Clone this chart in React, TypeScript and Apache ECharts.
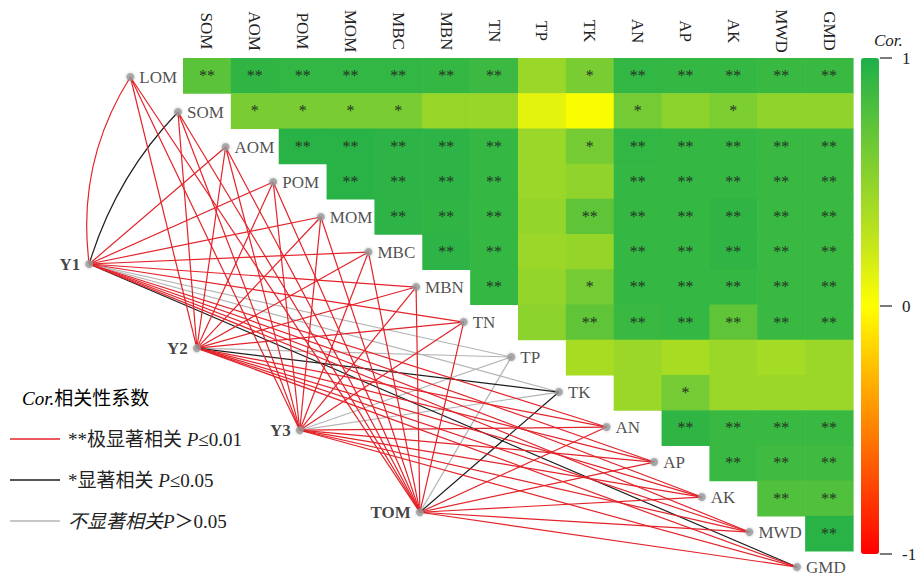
import React, { useEffect, useRef } from 'react';
import * as echarts from 'echarts';

// ---------- data ----------
const columns = ['SOM', 'AOM', 'POM', 'MOM', 'MBC', 'MBN', 'TN', 'TP', 'TK', 'AN', 'AP', 'AK', 'MWD', 'GMD'];
const nodeNames = ['LOM', ...columns];

// correlation values, row r starts at column r
const corrRows: number[][] = [
  [0.74, 0.92, 0.91, 0.91, 0.91, 0.9, 0.87, 0.45, 0.6, 0.91, 0.9, 0.9, 0.88, 0.88],
  [0.6, 0.6, 0.6, 0.6, 0.46, 0.46, 0.12, 0.02, 0.62, 0.52, 0.58, 0.5, 0.5],
  [0.95, 0.95, 0.93, 0.93, 0.9, 0.45, 0.62, 0.91, 0.9, 0.9, 0.88, 0.88],
  [0.95, 0.93, 0.93, 0.9, 0.45, 0.5, 0.9, 0.9, 0.9, 0.88, 0.88],
  [0.93, 0.92, 0.9, 0.48, 0.72, 0.9, 0.9, 0.92, 0.88, 0.88],
  [0.93, 0.9, 0.45, 0.47, 0.9, 0.9, 0.92, 0.88, 0.88],
  [0.9, 0.48, 0.62, 0.9, 0.9, 0.9, 0.88, 0.88],
  [0.52, 0.72, 0.88, 0.9, 0.72, 0.88, 0.88],
  [0.38, 0.45, 0.38, 0.45, 0.4, 0.45],
  [0.45, 0.62, 0.45, 0.45, 0.45],
  [0.92, 0.88, 0.88, 0.88],
  [0.88, 0.85, 0.85],
  [0.78, 0.78],
  [0.95],
];
// 2 = **, 1 = *, 0 = none
const sigRows: number[][] = [
  [2, 2, 2, 2, 2, 2, 2, 0, 1, 2, 2, 2, 2, 2],
  [1, 1, 1, 1, 0, 0, 0, 0, 1, 0, 1, 0, 0],
  [2, 2, 2, 2, 2, 0, 1, 2, 2, 2, 2, 2],
  [2, 2, 2, 2, 0, 0, 2, 2, 2, 2, 2],
  [2, 2, 2, 0, 2, 2, 2, 2, 2, 2],
  [2, 2, 0, 0, 2, 2, 2, 2, 2],
  [2, 0, 1, 2, 2, 2, 2, 2],
  [0, 2, 2, 2, 2, 2, 2],
  [0, 0, 0, 0, 0, 0],
  [0, 1, 0, 0, 0],
  [2, 2, 2, 2],
  [2, 2, 2],
  [2, 2],
  [2],
];

const envNames = ['Y1', 'Y2', 'Y3', 'TOM'];
// link significance from each env node to LOM..GMD: 2 = P<=0.01, 1 = P<=0.05, 0 = ns
const envSig: number[][] = [
  [2, 1, 2, 2, 2, 2, 2, 2, 0, 0, 2, 2, 2, 2, 1],
  [2, 2, 2, 2, 2, 2, 2, 2, 0, 1, 2, 2, 2, 2, 2],
  [2, 2, 2, 2, 2, 2, 2, 2, 0, 0, 2, 2, 2, 2, 2],
  [2, 2, 2, 2, 2, 2, 2, 2, 0, 1, 2, 2, 2, 2, 2],
];
const sigLabels = ['不显著相关P＞0.05', '*显著相关 P≤0.05', '**极显著相关 P≤0.01'];
const colorTicks = [1, 0, -1];

// ---------- layout ----------
const envPos: number[][] = [[-1.96, 5.85], [0.29, 8.24], [2.44, 10.57], [4.95, 12.9]];
const curvedLinks: Record<string, number> = { 'Y1-LOM': 0.18, 'Y1-SOM': 0.12 };
const SERIF = '"Liberation Serif", "Times New Roman", "Noto Sans CJK SC", serif';
const BAR_TOP = 58;
const BAR_H = 496;
const sigColors = ['#b4b4b4', '#1e1e1e', '#e3232a'];

export default function App() {
  const ref = useRef<HTMLDivElement>(null);
  useEffect(() => {
    const chart = echarts.init(ref.current!, null, { renderer: 'svg' });
    const nodePos = (r: number) => [r * 0.995 - 1.1, 0.54 + r * 0.994];

    const heatData: number[][] = [];
    corrRows.forEach((row, r) => row.forEach((v, k) => heatData.push([r + k, r, v, sigRows[r][k]])));

    const lineSets: any[][] = [[], [], []];
    envNames.forEach((e, i) =>
      envSig[i].forEach((s, r) => {
        const item: any = { coords: [envPos[i], nodePos(r)] };
        const cv = curvedLinks[e + '-' + nodeNames[r]];
        if (cv) item.lineStyle = { curveness: cv };
        lineSets[s].push(item);
      })
    );

    const richLabel = (name: string) => {
      const idx = name.indexOf('P');
      const before = name.slice(0, idx);
      const after = name.slice(idx + 1);
      const italicAll = name === sigLabels[0];
      return `{${italicAll ? 'i' : 'n'}|${before}}{i|P}{n|${after}}`;
    };
    const rich = {
      n: { fontFamily: SERIF, fontSize: 19, color: '#222' },
      i: { fontFamily: SERIF, fontSize: 19, color: '#222', fontStyle: 'italic' },
    };

    const lineOrder = [0, 2, 1];
    const lineSeries = lineOrder.map((s) => ({
      type: 'lines',
      name: sigLabels[s],
      coordinateSystem: 'cartesian2d',
      xAxisIndex: 0,
      yAxisIndex: 0,
      polyline: false,
      clip: false,
      silent: true,
      z: 2 + s * 0.1,
      lineStyle: { color: sigColors[s], width: 1.2, opacity: 1 },
      data: lineSets[s],
    }));

    const yOf = (t: number) => BAR_TOP + ((1 - t) / 2) * BAR_H;

    const graphic: any[] = [
      {
        type: 'text', x: 874, y: 40,
        style: { text: 'Cor.', font: `italic 17px ${SERIF}`, fill: '#222', verticalAlign: 'middle' },
      },
      {
        type: 'text', x: 22, y: 398,
        style: { text: '{i|Cor.}{n|相关性系数}', rich, verticalAlign: 'middle' },
      },
    ];
    colorTicks.forEach((t) => {
      graphic.push({
        type: 'line',
        shape: { x1: 880, y1: yOf(t), x2: 892, y2: yOf(t) },
        style: { stroke: '#222', lineWidth: 1.2 },
      });
      graphic.push({
        type: 'text', x: 902, y: yOf(t),
        style: { text: String(t), font: `17px ${SERIF}`, fill: '#222', align: 'left', verticalAlign: 'middle' },
      });
    });

    chart.setOption({
      animation: false,
      backgroundColor: '#ffffff',
      grid: { left: 183, top: 58, width: 670, height: 493 },
      xAxis: [
        { type: 'value', min: 0, max: 14, show: false },
        {
          type: 'category', data: columns, position: 'top', boundaryGap: true,
          axisLine: { show: false }, axisTick: { show: false }, splitLine: { show: false },
          axisLabel: {
            rotate: 90, interval: 0, margin: 27, align: 'center', verticalAlign: 'middle',
            fontSize: 17, fontFamily: SERIF, color: '#222',
          },
        },
      ],
      yAxis: { type: 'value', min: 0, max: 14, inverse: true, show: false },
      visualMap: {
        type: 'continuous', min: -1, max: 1, dimension: 2, seriesIndex: 0,
        left: 861, top: BAR_TOP, itemWidth: 18, itemHeight: BAR_H, padding: 0,
        calculable: false, hoverLink: false,
        inRange: {
          color: ['#ff0000', '#ff4000', '#ff8000', '#ffbf00', '#ffff00', '#c4e61a', '#8fd32c', '#58c23a', '#1daf4a'],
        },
      },
      legend: {
        data: [2, 1, 0].map((s) => ({
          name: sigLabels[s],
          itemStyle: { color: sigColors[s], borderWidth: 0, borderColor: 'transparent' },
        })),
        orient: 'vertical', left: 10, top: 428, padding: 0, itemGap: 19,
        itemWidth: 50, itemHeight: 1.4, icon: 'rect', selectedMode: false,
        itemStyle: { borderWidth: 0 },
        formatter: richLabel,
        textStyle: { fontSize: 19, lineHeight: 22, rich, padding: [0, 0, 0, 3] },
      },
      graphic,
      series: [
        {
          type: 'custom',
          xAxisIndex: 0, yAxisIndex: 0,
          clip: false, silent: true, z: 1,
          dimensions: ['c', 'r', 'v', 's'],
          encode: { x: 0, y: 1 },
          data: heatData,
          renderItem: (params: any, api: any) => {
            const c = api.value(0) as number;
            const r = api.value(1) as number;
            const s = api.value(3) as number;
            const p0 = api.coord([c, r]);
            const p1 = api.coord([c + 1, r + 1]);
            const x = p0[0], y = p0[1], w = p1[0] - p0[0], h = p1[1] - p0[1];
            const children: any[] = [
              { type: 'rect', shape: { x, y, width: w + 0.6, height: h + 0.6 }, style: { fill: api.visual('color') } },
            ];
            if (s > 0) {
              children.push({
                type: 'text', x: x + w / 2, y: y + h / 2,
                style: { text: '*'.repeat(s), fill: '#243524', font: `16px ${SERIF}`, align: 'center', verticalAlign: 'middle' },
              });
            }
            return { type: 'group', children };
          },
        },
        ...lineSeries,
        {
          type: 'scatter', xAxisIndex: 0, yAxisIndex: 0, clip: false, silent: true, z: 5,
          symbolSize: 8,
          itemStyle: { color: '#9a9a9a', shadowBlur: 3, shadowColor: 'rgba(0,0,0,0.3)' },
          label: { show: true, position: 'right', distance: 5, formatter: '{b}', fontSize: 17, fontFamily: SERIF, color: '#222' },
          data: nodeNames.map((n, r) => ({ name: n, value: nodePos(r) })),
        },
        {
          type: 'scatter', xAxisIndex: 0, yAxisIndex: 0, clip: false, silent: true, z: 5,
          symbolSize: 8,
          itemStyle: { color: '#9a9a9a', shadowBlur: 3, shadowColor: 'rgba(0,0,0,0.3)' },
          label: { show: true, position: 'left', distance: 5, formatter: '{b}', fontSize: 17, fontWeight: 'bold', fontFamily: SERIF, color: '#111' },
          data: envNames.map((n, i) => ({ name: n, value: envPos[i] })),
        },
      ],
    });
    return () => chart.dispose();
  }, []);
  return <div ref={ref} style={{ position: 'fixed', left: 0, top: 0, width: 918, height: 578 }} />;
}
